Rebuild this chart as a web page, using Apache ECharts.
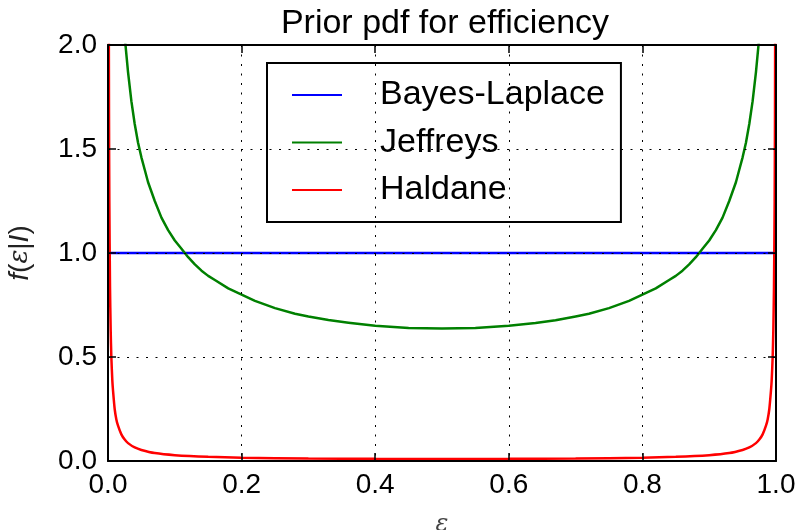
<!DOCTYPE html>
<html>
<head>
<meta charset="utf-8">
<script src="https://cdn.jsdelivr.net/npm/echarts@6/dist/echarts.min.js"></script>
<style>
  html, body { margin: 0; padding: 0; background: #fff; }
  #chart { width: 800px; height: 530px; }
</style>
</head>
<body>
<div id="chart"></div>
<script>
// Prior densities for an efficiency parameter on [0, 1]
const bayesEps   = [0, 1];
const bayesPdf   = [1, 1];

const jeffreysEps = [0.02, 0.025, 0.03, 0.035, 0.04, 0.045, 0.05, 0.055, 0.06, 0.07, 0.08, 0.09, 0.10, 0.11, 0.12, 0.13, 0.14, 0.15, 0.16,
                     0.18, 0.20, 0.22, 0.25, 0.28, 0.30, 0.33, 0.36, 0.40, 0.45, 0.50,
                     0.55, 0.60, 0.64, 0.67, 0.70, 0.72, 0.75, 0.78, 0.80, 0.82, 0.84, 0.85, 0.86, 0.87, 0.88, 0.89, 0.90, 0.91, 0.92, 0.93,
                     0.94, 0.945, 0.95, 0.955, 0.96, 0.965, 0.97, 0.975, 0.98];
const jeffreysPdf = [2.27, 2.04, 1.87, 1.73, 1.62, 1.53, 1.46, 1.40, 1.34, 1.25, 1.17, 1.11, 1.06, 1.02, 0.98, 0.945, 0.915, 0.89, 0.87,
                     0.83, 0.80, 0.77, 0.735, 0.708, 0.695, 0.678, 0.665, 0.65, 0.64, 0.637,
                     0.64, 0.65, 0.663, 0.677, 0.695, 0.708, 0.735, 0.77, 0.80, 0.83, 0.87, 0.89, 0.915, 0.945, 0.98, 1.02, 1.06, 1.11, 1.17, 1.25,
                     1.34, 1.40, 1.46, 1.53, 1.62, 1.73, 1.87, 2.04, 2.27];

const haldaneEps = [0.001, 0.0015, 0.002, 0.003, 0.004, 0.005, 0.0065, 0.0075, 0.01, 0.0125, 0.015, 0.02, 0.025, 0.03, 0.04, 0.05, 0.07, 0.10, 0.15, 0.20, 0.30, 0.40, 0.50,
                    0.60, 0.70, 0.80, 0.85, 0.90, 0.93, 0.95, 0.96, 0.97, 0.975, 0.98, 0.985, 0.9875, 0.99, 0.9925, 0.9935, 0.995, 0.996, 0.997, 0.998, 0.9985, 0.999];
const haldanePdf = [2.5, 1.67, 1.25, 0.84, 0.63, 0.50, 0.385, 0.34, 0.25, 0.20, 0.17, 0.128, 0.103, 0.086, 0.065, 0.053, 0.038, 0.028, 0.020, 0.016, 0.012, 0.0104, 0.010,
                    0.0104, 0.012, 0.016, 0.020, 0.028, 0.038, 0.053, 0.065, 0.086, 0.103, 0.128, 0.17, 0.20, 0.25, 0.34, 0.385, 0.50, 0.63, 0.84, 1.25, 1.67, 2.5];

const xTicks = [0.0, 0.2, 0.4, 0.6, 0.8, 1.0];
const yTicks = [0.0, 0.5, 1.0, 1.5, 2.0];

const pairs = (xs, ys) => xs.map((x, i) => [x, ys[i]]);

const FONT = '"Liberation Sans", Arial, Helvetica, sans-serif';
const SERIF = '"DejaVu Serif", "Liberation Serif", serif';
const gridDots = { color: '#000', width: 1, type: [2, 7.5] };

const chart = echarts.init(document.getElementById('chart'), null, { renderer: 'canvas' });

const baseX = {
  type: 'value', min: xTicks[0], max: xTicks[xTicks.length - 1], interval: 0.2,
  axisLine: { show: true, onZero: false, lineStyle: { color: '#000', width: 2 } },
  axisTick: { show: true, inside: true, length: 8, lineStyle: { color: '#000', width: 1.5 } }
};
const baseY = {
  type: 'value', min: yTicks[0], max: yTicks[yTicks.length - 1], interval: 0.5,
  axisLine: { show: true, onZero: false, lineStyle: { color: '#000', width: 2 } },
  axisTick: { show: true, inside: true, length: 8, lineStyle: { color: '#000', width: 1.5 } }
};

chart.setOption({
  animation: false,
  backgroundColor: '#fff',
  textStyle: { fontFamily: FONT },
  title: {
    text: 'Prior pdf for efficiency',
    left: 440, top: 2, textAlign: 'center',
    textStyle: { fontFamily: FONT, fontSize: 34, fontWeight: 'normal', color: '#000' }
  },
  grid: { left: 108, right: 24, top: 45, bottom: 69, containLabel: false, outerBoundsMode: 'none' },
  legend: {
    orient: 'vertical',
    left: 267, top: 63,
    padding: [15, 16, 15, 25],
    itemGap: 13.5,
    icon: 'rect',
    itemWidth: 50, itemHeight: 2,
    borderColor: '#000', borderWidth: 2, borderRadius: 0,
    backgroundColor: '#fff',
    textStyle: { fontFamily: FONT, fontSize: 34, color: '#000', padding: [0, 0, 0, 33] },
    data: ['Bayes-Laplace', 'Jeffreys', 'Haldane']
  },
  xAxis: [
    Object.assign({}, baseX, {
      position: 'bottom', z: 5,
      name: 'ε', nameLocation: 'middle', nameGap: 52,
      nameTextStyle: { fontFamily: SERIF, fontStyle: 'italic', fontSize: 24, color: '#444' },
      axisLabel: { show: true, margin: 10, fontSize: 28, color: '#000', fontFamily: FONT,
                   formatter: v => v.toFixed(1) },
      splitLine: { show: true, lineStyle: gridDots }
    }),
    Object.assign({}, baseX, {
      position: 'top', z: 5,
      axisLabel: { show: false }, splitLine: { show: false }
    })
  ],
  yAxis: [
    Object.assign({}, baseY, {
      position: 'left', z: 5,
      name: '{i|f}{n|(}{e|ε}{n||}{i|I}{n|)}', nameLocation: 'middle', nameGap: 74, nameRotate: 90,
      nameTextStyle: {
        fontFamily: FONT, fontSize: 28, color: '#222',
        rich: {
          i: { fontFamily: FONT, fontStyle: 'italic', fontSize: 28, color: '#222' },
          n: { fontFamily: FONT, fontSize: 28, color: '#222' },
          e: { fontFamily: SERIF, fontStyle: 'italic', fontSize: 26, color: '#222' }
        }
      },
      axisLabel: { show: true, margin: 11, fontSize: 28, color: '#000', fontFamily: FONT,
                   formatter: v => v.toFixed(1) },
      splitLine: { show: true, lineStyle: gridDots }
    }),
    Object.assign({}, baseY, {
      position: 'right', z: 5,
      axisLabel: { show: false }, splitLine: { show: false }
    })
  ],
  series: [
    {
      name: 'Bayes-Laplace', type: 'line', xAxisIndex: 0, yAxisIndex: 0,
      data: pairs(bayesEps, bayesPdf), symbol: 'none', clip: true,
      lineStyle: { color: '#0000ff', width: 2.5 }, itemStyle: { color: '#0000ff' }
    },
    {
      name: 'Jeffreys', type: 'line', xAxisIndex: 0, yAxisIndex: 0,
      data: pairs(jeffreysEps, jeffreysPdf), symbol: 'none', smooth: false, clip: true,
      lineStyle: { color: '#008000', width: 2.5, join: 'round' }, itemStyle: { color: '#008000' }
    },
    {
      name: 'Haldane', type: 'line', xAxisIndex: 0, yAxisIndex: 0,
      data: pairs(haldaneEps, haldanePdf), symbol: 'none', smooth: 0.2, clip: true,
      lineStyle: { color: '#ff0000', width: 2.5 }, itemStyle: { color: '#ff0000' }
    }
  ]
});
</script>
</body>
</html>
